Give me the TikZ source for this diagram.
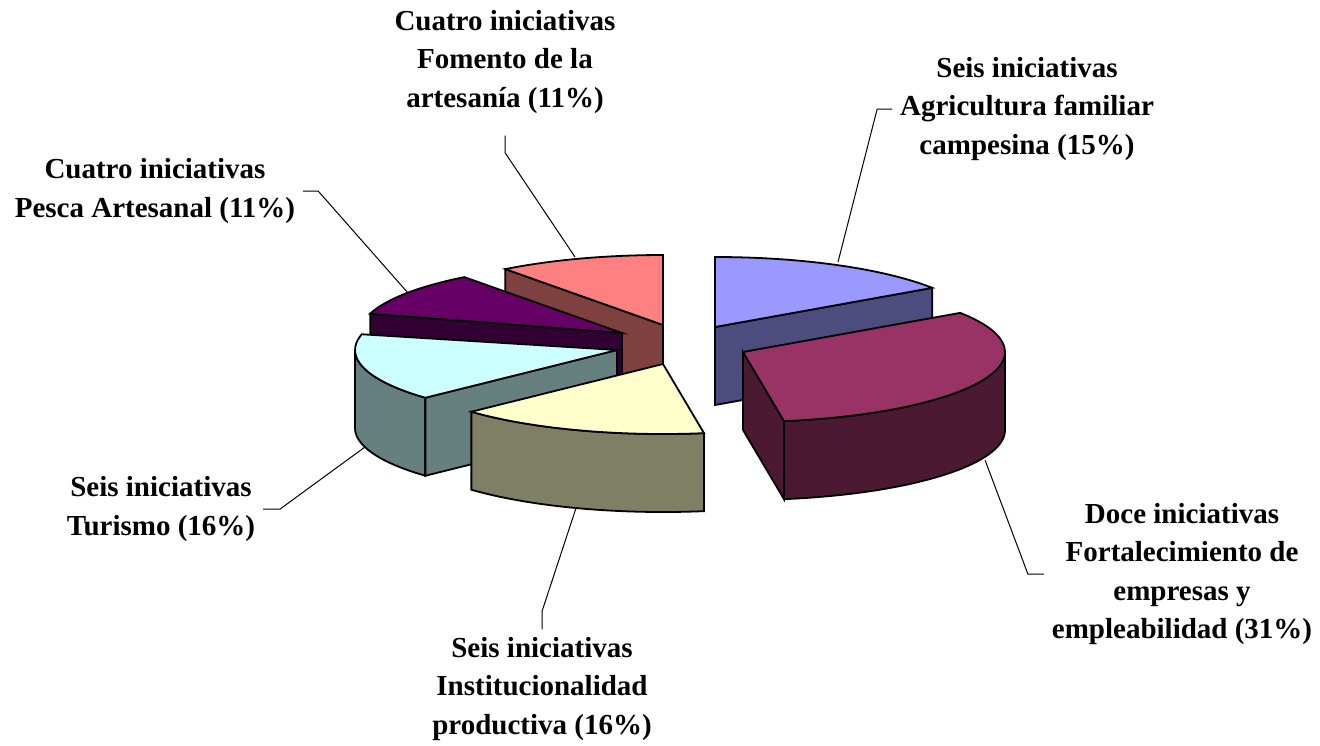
\documentclass[tikz,border=0pt]{standalone}
\usepackage{fontspec}
\setmainfont{Liberation Serif}
\definecolor{agriTop}{HTML}{9999FF}
\definecolor{agriSide}{HTML}{4C4C7F}
\definecolor{empTop}{HTML}{993366}
\definecolor{empSide}{HTML}{4C1933}
\definecolor{instTop}{HTML}{FFFFCC}
\definecolor{instSide}{HTML}{7F7F66}
\definecolor{turTop}{HTML}{CCFFFF}
\definecolor{turSide}{HTML}{667F7F}
\definecolor{pescaTop}{HTML}{660066}
\definecolor{pescaSide}{HTML}{330033}
\definecolor{artTop}{HTML}{FF8080}
\definecolor{artSide}{HTML}{7F4040}
\begin{document}
\begin{tikzpicture}[x=0.5pt, y=0.5pt,
	face/.style={draw=black, line width=0.9pt, line join=miter},
	pie/.style={x radius=262, y radius=70},
	lbl/.style={align=center, inner sep=4pt, outer sep=0pt, font=\bfseries\fontsize{14.5}{19.25}\selectfont},
	leader/.style={draw=black, line width=0.5pt}]
	\useasboundingbox[fill=white] (0,0) rectangle (1320,-745);
	% apex of each slice
	\coordinate (cArt) at (663,-325);
	\coordinate (cPesca) at (622,-333);
	\coordinate (cAgri) at (715,-327);
	\coordinate (cTur) at (617,-350);
	\coordinate (cEmp) at (743,-352);
	\coordinate (cInst) at (663,-364);
	% artesania
	\draw[face, fill=artSide] (cArt) -- ++(127:262 and 70) -- ++(0,-78) -- ++(307:262 and 70) -- cycle;
	\draw[face, fill=artTop] (cArt) -- ++(127:262 and 70) arc[pie, start angle=127, end angle=90] -- cycle;
	% pesca
	\draw[face, fill=pescaSide] (cPesca) -- ++(164:262 and 70) -- ++(0,-78) -- ++(344:262 and 70) -- cycle;
	\draw[face, fill=pescaTop] (cPesca) -- ++(164:262 and 70) arc[pie, start angle=164, end angle=127] -- cycle;
	% agricultura
	\draw[face, fill=agriSide] (cAgri) -- ++(34:262 and 70) -- ++(0,-78) -- ++(214:262 and 70) -- cycle;
	\draw[face, fill=agriTop] (cAgri) -- ++(90:262 and 70) arc[pie, start angle=90, end angle=34] -- cycle;
	% turismo
	\draw[face, fill=turSide] (cTur) ++(180:262 and 70) arc[pie, start angle=180, end angle=223] -- ++(0,-78) arc[pie, start angle=223, end angle=180] -- cycle;
	\draw[face, fill=turSide] (cTur) -- ++(223:262 and 70) -- ++(0,-78) -- ++(43:262 and 70) -- cycle;
	\draw[face, fill=turTop] (cTur) -- ++(167:262 and 70) arc[pie, start angle=167, end angle=223] -- cycle;
	% empresas
	\draw[face, fill=empSide] (cEmp) ++(0:262 and 70) arc[pie, start angle=0, end angle=-81] -- ++(0,-78) arc[pie, start angle=-81, end angle=0] -- cycle;
	\draw[face, fill=empSide] (cEmp) -- ++(-81:262 and 70) -- ++(0,-78) -- ++(99:262 and 70) -- cycle;
	\draw[face, fill=empTop] (cEmp) -- ++(34:262 and 70) arc[pie, start angle=34, end angle=-81] -- cycle;
	% institucionalidad
	\draw[face, fill=instSide] (cInst) ++(-81:262 and 70) arc[pie, start angle=-81, end angle=-137] -- ++(0,-78) arc[pie, start angle=-137, end angle=-81] -- cycle;
	\draw[face, fill=instTop] (cInst) -- ++(-81:262 and 70) arc[pie, start angle=-81, end angle=-137] -- cycle;
	% labels
	\node[lbl] (lArt) at (505,-62) {Cuatro iniciativas\\Fomento de la\\artesanía (11\%)};
	\node[lbl] (lAgri) at (1027,-109) {Seis iniciativas\\Agricultura familiar\\campesina (15\%)};
	\node[lbl] (lPesca) at (155,-191) {Cuatro iniciativas\\Pesca Artesanal (11\%)};
	\node[lbl] (lTur) at (161,-509) {Seis iniciativas\\Turismo (16\%)};
	\node[lbl] (lInst) at (542,-689) {Seis iniciativas\\Institucionalidad\\productiva (16\%)};
	\node[lbl] (lEmp) at (1182,-574) {Doce iniciativas\\Fortalecimiento de\\empresas y\\empleabilidad (31\%)};
	% leader lines
	\coordinate (pArt) at (575,-257);
	\coordinate (pAgri) at (838,-262);
	\coordinate (pPesca) at (408,-293);
	\coordinate (pTur) at (365,-447);
	\coordinate (pInst) at (576,-508);
	\coordinate (pEmp) at (985,-460);
	\draw[leader] ([yshift=-7pt]lArt.south) -- ++(0,-17) -- (pArt);
	\draw[leader] (lAgri.west) -- ++(-15,0) -- (pAgri);
	\draw[leader] (lPesca.east) -- ++(15,0) -- (pPesca);
	\draw[leader] (lTur.east) -- ++(17,0) -- (pTur);
	\draw[leader] (lInst.north) -- ++(0,18) -- (pInst);
	\draw[leader] (lEmp.west) -- ++(-16,0) -- (pEmp);
\end{tikzpicture}
\end{document}
